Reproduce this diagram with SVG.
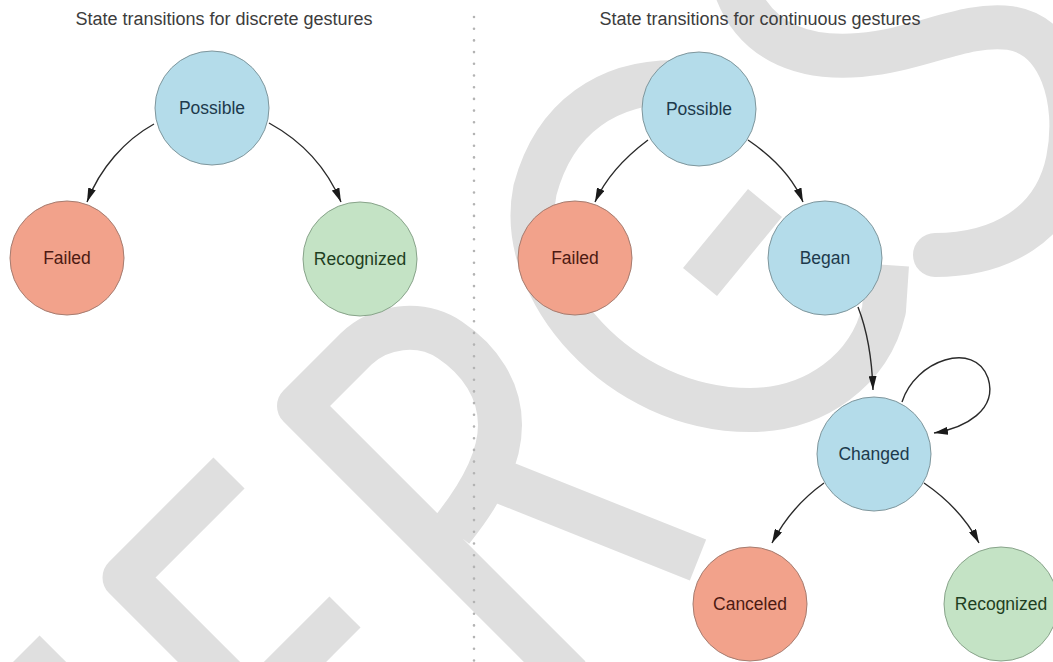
<svg xmlns="http://www.w3.org/2000/svg" width="1053" height="662" viewBox="0 0 1053 662">
  <style>
    .wm { fill: none; stroke: #dfdfdf; stroke-width: 44; stroke-linejoin: round; stroke-linecap: butt; }
    .wm.rc { stroke-linecap: round; }
    .title { font-family: "Liberation Sans", Arial, sans-serif; font-size: 18px; fill: #3c3c3c; text-anchor: middle; }
    .label { font-family: "Liberation Sans", Arial, sans-serif; font-size: 17.5px; text-anchor: middle; }
    .blue circle { fill: #b4dcea; stroke: #7f969c; stroke-width: 1; }
    .blue text { fill: #1d3a4c; }
    .red circle { fill: #f2a28b; stroke: #a57c70; stroke-width: 1; }
    .red text { fill: #4d1a12; }
    .green circle { fill: #c4e3c5; stroke: #88a38a; stroke-width: 1; }
    .green text { fill: #1e3f22; }
    .edge { fill: none; stroke: #2a2a2a; stroke-width: 1.4; marker-end: url(#arrow); }
    .divider { stroke: #b3b3b3; stroke-width: 2.6; stroke-linecap: round; stroke-dasharray: 0 11.7; }
  </style>
  <defs>
    <marker id="arrow" markerUnits="userSpaceOnUse" markerWidth="15" markerHeight="8" refX="14" refY="4" orient="auto">
      <path d="M0,0 L14,4 L0,8 Z" fill="#1a1a1a"/>
    </marker>
  </defs>

  <rect width="1053" height="662" fill="#ffffff"/>

  <!-- background strokes -->
  <g id="backdrop">
    <path class="wm" d="M229,473 L124.5,577.5 L230,683"/>
    <path class="wm" d="M345,612 L270,687"/>
    <path class="wm" d="M24,651 L80,707"/>
    <path class="wm" d="M570,677 L299,406 L356,349 C380,326 420,320 450,340 C480,360 500,390 500,425 C500,460 480,495 452,530"/>
    <path class="wm" d="M470,469 L698,560"/>
    <path class="wm" d="M675,82 C610,82 555,115 535,190 C515,290 620,410 750,410 C815,410 870,370 884,310 L887,265"/>
    <path class="wm" d="M700,282 L765,203"/>
    <path class="wm rc" d="M733,-20 C750,40 800,60 860,55 C920,50 965,22 1010,28 C1060,35 1080,100 1068,160 C1055,225 1000,255 935,255"/>
  </g>

  <line class="divider" x1="474" y1="17" x2="474" y2="662"/>

  <text class="title" x="224" y="25">State transitions for discrete gestures</text>
  <text class="title" x="760" y="25">State transitions for continuous gestures</text>

  <g id="connectors">
    <path class="edge" d="M154,124 C125,140 100,168 87,202"/>
    <path class="edge" d="M269,123 C300,140 326,166 341,202"/>
    <path class="edge" d="M648,140 C628,155 607,175 595,202"/>
    <path class="edge" d="M748,140 C770,155 792,175 803,202"/>
    <path class="edge" d="M858,307 C867,330 872,360 873,390"/>
    <path class="edge" d="M902,402 C915,360 975,340 988,378 C998,410 965,428 934,433"/>
    <path class="edge" d="M824,483 C803,498 785,518 772,543"/>
    <path class="edge" d="M924,483 C946,498 966,518 979,543"/>
  </g>

  <g id="d-possible" class="blue">
    <circle cx="212" cy="108" r="57"/>
    <text class="label" x="212" y="114">Possible</text>
  </g>
  <g id="d-failed" class="red">
    <circle cx="67" cy="258" r="57"/>
    <text class="label" x="67" y="264">Failed</text>
  </g>
  <g id="d-recognized" class="green">
    <circle cx="360" cy="259" r="57"/>
    <text class="label" x="360" y="265">Recognized</text>
  </g>

  <g id="c-possible" class="blue">
    <circle cx="699" cy="109" r="57"/>
    <text class="label" x="699" y="115">Possible</text>
  </g>
  <g id="c-failed" class="red">
    <circle cx="575" cy="258" r="57"/>
    <text class="label" x="575" y="264">Failed</text>
  </g>
  <g id="c-began" class="blue">
    <circle cx="825" cy="258" r="57"/>
    <text class="label" x="825" y="264">Began</text>
  </g>
  <g id="c-changed" class="blue">
    <circle cx="874" cy="454" r="57"/>
    <text class="label" x="874" y="460">Changed</text>
  </g>
  <g id="c-canceled" class="red">
    <circle cx="750" cy="604" r="57"/>
    <text class="label" x="750" y="610">Canceled</text>
  </g>
  <g id="c-recognized" class="green">
    <circle cx="1001" cy="604" r="57"/>
    <text class="label" x="1001" y="610">Recognized</text>
  </g>
</svg>
